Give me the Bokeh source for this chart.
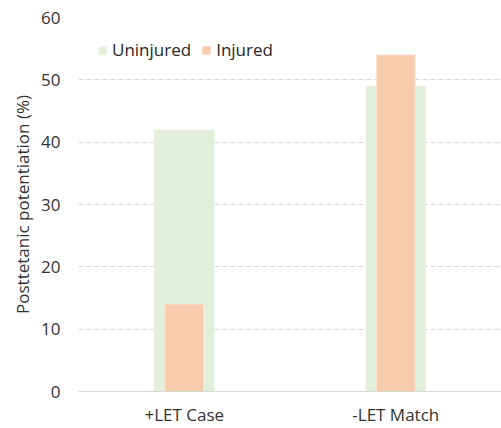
from bokeh.plotting import figure
from bokeh.models import ColumnDataSource, FactorRange, Legend, LegendItem
from bokeh.embed import file_html
from bokeh.resources import INLINE

categories = ["+LET Case", "-LET Match"]
uninjured = [42, 49]
injured = [14, 54]
y_ticks = [0, 10, 20, 30, 40, 50, 60]

FONT = "Open Sans"
TEXT = "#333333"

src = ColumnDataSource(dict(cat=categories, uninjured=uninjured, injured=injured))

p = figure(x_range=FactorRange(*categories, range_padding=0), y_range=(0, 60),
           width=501, height=428, output_backend="svg", toolbar_location=None,
           min_border_left=78, min_border_right=0, min_border_top=17, min_border_bottom=35)
p.outline_line_color = None
p.background_fill_color = "white"
p.border_fill_color = "white"

r1 = p.vbar(x="cat", top="uninjured", width=0.285, source=src,
            fill_color="#e2efda", line_color=None)
r2 = p.vbar(x="cat", top="injured", width=0.182, source=src,
            fill_color="#f8cbad", line_color="#fbe0cf", line_width=1)

p.xgrid.grid_line_color = None
p.ygrid.grid_line_color = "#d9d9d9"
p.ygrid.grid_line_dash = "5 3"
p.ygrid.grid_line_width = 1
p.yaxis.ticker = y_ticks

p.yaxis.axis_line_color = None
p.yaxis.major_tick_line_color = None
p.yaxis.minor_tick_line_color = None
p.yaxis.major_tick_out = 0
p.yaxis.major_tick_in = 0
p.yaxis.major_label_standoff = 18
p.yaxis.major_label_text_font = FONT
p.yaxis.major_label_text_font_size = "17px"
p.yaxis.major_label_text_color = TEXT
p.yaxis.axis_label = "Posttetanic potentiation (%)"
p.yaxis.axis_label_text_font = FONT
p.yaxis.axis_label_text_font_size = "17px"
p.yaxis.axis_label_text_font_style = "normal"
p.yaxis.axis_label_text_color = TEXT
p.yaxis.axis_label_standoff = 4

p.xaxis.axis_line_color = "#d9d9d9"
p.xaxis.axis_line_width = 1
p.xaxis.major_tick_line_color = None
p.xaxis.minor_tick_line_color = None
p.xaxis.major_tick_out = 0
p.xaxis.major_tick_in = 0
p.xaxis.major_label_standoff = 11
p.xaxis.major_label_text_font = FONT
p.xaxis.major_label_text_font_size = "17px"
p.xaxis.major_label_text_color = TEXT

legend = Legend(items=[LegendItem(label="Uninjured", renderers=[r1]),
                       LegendItem(label="Injured", renderers=[r2])],
                orientation="horizontal", location=(19, 330))
legend.background_fill_alpha = 0
legend.border_line_color = None
legend.padding = 0
legend.margin = 0
legend.spacing = 10
legend.glyph_width = 10
legend.glyph_height = 10
legend.label_standoff = 5
legend.label_text_font = FONT
legend.label_text_font_size = "17px"
legend.label_text_color = "#262626"
p.add_layout(legend, "center")

open("out.html", "w").write(file_html(p, INLINE))
